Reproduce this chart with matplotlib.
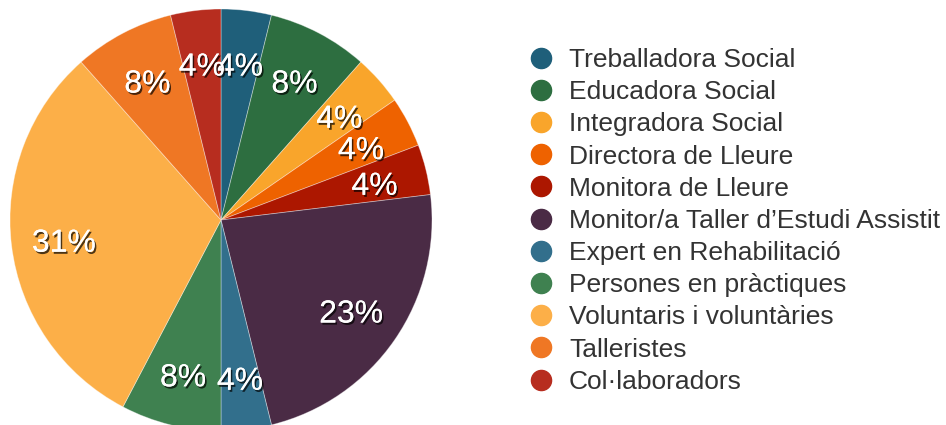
import matplotlib.pyplot as plt
import matplotlib.patheffects as pe
from matplotlib.lines import Line2D

plt.rcParams['font.family'] = ['Liberation Sans', 'DejaVu Sans']

labels = [
    "Treballadora Social",
    "Educadora Social",
    "Integradora Social",
    "Directora de Lleure",
    "Monitora de Lleure",
    "Monitor/a Taller d\u2019Estudi Assistit",
    "Expert en Rehabilitaci\u00f3",
    "Persones en pr\u00e0ctiques",
    "Voluntaris i volunt\u00e0ries",
    "Talleristes",
    "Col\u00b7laboradors",
]
counts = [1, 2, 1, 1, 1, 6, 1, 2, 8, 2, 1]
colors = ["#1f5f7a", "#2d6e40", "#f9a52b", "#ee6200", "#ac1700", "#4a2b45",
          "#326f8c", "#3f8150", "#fcaf48", "#ef7724", "#b72d1f"]

W, H = 946, 425
fig = plt.figure(figsize=(W / 100, H / 100), dpi=100)
cx, cy, r = 221, 220, 211
ax = fig.add_axes([(cx - r) / W, (H - cy - r) / H, 2 * r / W, 2 * r / H])

wedges, texts, autotexts = ax.pie(
    counts, colors=colors, startangle=90, counterclock=False,
    autopct=lambda p: "%d%%" % round(p), pctdistance=0.75,
    wedgeprops=dict(edgecolor=(1, 1, 1, 0.4), linewidth=0.6),
)
for t in autotexts:
    x, y = t.get_position()
    t.set_position((x, y - 0.022))
    t.set_color("white")
    t.set_fontsize(23)
    t.set_path_effects([
        pe.withSimplePatchShadow(offset=(1.2, -1.5), shadow_rgbFace="black", alpha=0.7),
        pe.Normal(),
    ])
ax.set_xlim(-1, 1)
ax.set_ylim(-1, 1)
ax.axis("off")

handles = [Line2D([], [], marker="o", linestyle="none", markersize=14.5,
                  markerfacecolor=c, markeredgecolor=c) for c in colors]
fig.legend(handles, labels, loc="upper left", bbox_to_anchor=(528 / W, 1 - 48 / H),
           frameon=False, fontsize=19, labelcolor="#333333", borderpad=0,
           borderaxespad=0, handlelength=1.0, handletextpad=0.55,
           labelspacing=0.31)

fig.savefig("out.png", dpi=100)
